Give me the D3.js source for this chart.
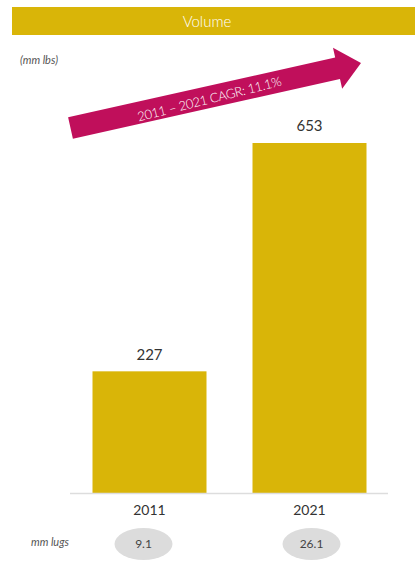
<!DOCTYPE html>
<html>
<head>
<meta charset="utf-8">
<script src="https://cdn.jsdelivr.net/npm/d3@7"></script>
<style>
  body { margin: 0; background: #fff; }
  text { font-family: Lato, "Open Sans", sans-serif; }
</style>
</head>
<body>
<div id="chart"></div>
<script>
var w = 415;
var h = 561;

// chart data
var years = ["2011", "2021"];
var volumes = [227, 653];
var lugs = ["9.1", "26.1"];
var cagrLabel = "2011 \u2013 2021 CAGR: 11.1%";

var gold = "#D9B508";
var magenta = "#C00F5B";

var svg = d3.select("#chart")
  .append("svg")
  .attr("width", w)
  .attr("height", h);

// Header bar
svg.append("rect")
  .attr("x", 12)
  .attr("y", 7)
  .attr("width", w - 12)
  .attr("height", 28)
  .attr("fill", gold);

svg.append("text")
  .attr("x", 207)
  .attr("y", 22)
  .attr("dy", ".35em")
  .attr("text-anchor", "middle")
  .attr("fill", "#fff")
  .attr("font-size", 15)
  .attr("font-weight", 300)
  .text("Volume");

svg.append("text")
  .attr("x", 20)
  .attr("y", 60)
  .attr("dy", ".35em")
  .attr("fill", "#555")
  .attr("font-size", 11)
  .attr("font-style", "italic")
  .text("(mm lbs)");

// Scales
var x = d3.scaleBand()
  .domain(years)
  .range([69.5, 389.5])
  .paddingInner(0.2875)
  .paddingOuter(0.14375);

var y = d3.scaleLinear()
  .domain([0, 653])
  .range([493, 143]);

// Bars
svg.selectAll(".bar")
  .data(years)
  .enter()
  .append("rect")
  .attr("class", "bar")
  .attr("x", d => x(d))
  .attr("y", (d, i) => y(volumes[i]))
  .attr("width", x.bandwidth())
  .attr("height", (d, i) => y(0) - y(volumes[i]))
  .attr("fill", gold);

// value labels
svg.selectAll(".val")
  .data(years)
  .enter()
  .append("text")
  .attr("class", "val")
  .attr("x", d => x(d) + x.bandwidth() / 2)
  .attr("y", (d, i) => y(volumes[i]) - 17)
  .attr("dy", ".35em")
  .attr("text-anchor", "middle")
  .attr("fill", "#333")
  .attr("font-size", 15)
  .text((d, i) => volumes[i]);

// baseline
svg.append("line")
  .attr("x1", 70)
  .attr("x2", 388)
  .attr("y1", y(0) + 0.5)
  .attr("y2", y(0) + 0.5)
  .attr("stroke", "#ddd")
  .attr("stroke-width", 1.5);

// x axis labels
svg.selectAll(".yr")
  .data(years)
  .enter()
  .append("text")
  .attr("class", "yr")
  .attr("x", d => x(d) + x.bandwidth() / 2)
  .attr("y", 510)
  .attr("dy", ".35em")
  .attr("text-anchor", "middle")
  .attr("fill", "#333")
  .attr("font-size", 14)
  .text(d => d);

// mm lugs row
svg.append("text")
  .attr("x", 31)
  .attr("y", 542)
  .attr("dy", ".35em")
  .attr("fill", "#555")
  .attr("font-size", 11)
  .attr("font-style", "italic")
  .text("mm lugs");

var lugShift = [-6, 2];
var lugItems = svg.selectAll(".lug")
  .data(years)
  .enter()
  .append("g")
  .attr("class", "lug")
  .attr("transform", (d, i) => "translate(" + (x(d) + x.bandwidth() / 2 + lugShift[i]) + ",544)");

lugItems.append("ellipse")
  .attr("rx", 29)
  .attr("ry", 16)
  .attr("fill", "#dcdcdc");

lugItems.append("text")
  .attr("dy", ".35em")
  .attr("text-anchor", "middle")
  .attr("fill", "#444")
  .attr("font-size", 12)
  .text((d, i) => lugs[i]);

// CAGR arrow
var tail = [70.5, 128];
var tip = [361, 63];
var ang = Math.atan2(tip[1] - tail[1], tip[0] - tail[0]) * 180 / Math.PI;
var len = Math.hypot(tip[0] - tail[0], tip[1] - tail[1]);
var half = 11, headLen = 24, headHalf = 21;

var arrow = svg.append("g")
  .attr("transform", "translate(" + tail[0] + "," + tail[1] + ") rotate(" + ang + ")");

arrow.append("path")
  .attr("d", "M0," + (-half) +
    "L" + (len - headLen) + "," + (-half) +
    "L" + (len - headLen) + "," + (-headHalf) +
    "L" + len + ",0" +
    "L" + (len - headLen) + "," + headHalf +
    "L" + (len - headLen) + "," + half +
    "L0," + half + "Z")
  .attr("fill", magenta);

arrow.append("text")
  .attr("x", 142)
  .attr("y", 2)
  .attr("dy", ".35em")
  .attr("text-anchor", "middle")
  .attr("fill", "#fff")
  .attr("font-size", 13)
  .attr("font-weight", 300)
  .attr("textLength", 148)
  .attr("lengthAdjust", "spacing")
  .attr("transform", "rotate(-1.5,142,2)")
  .text(cagrLabel);
</script>
</body>
</html>
